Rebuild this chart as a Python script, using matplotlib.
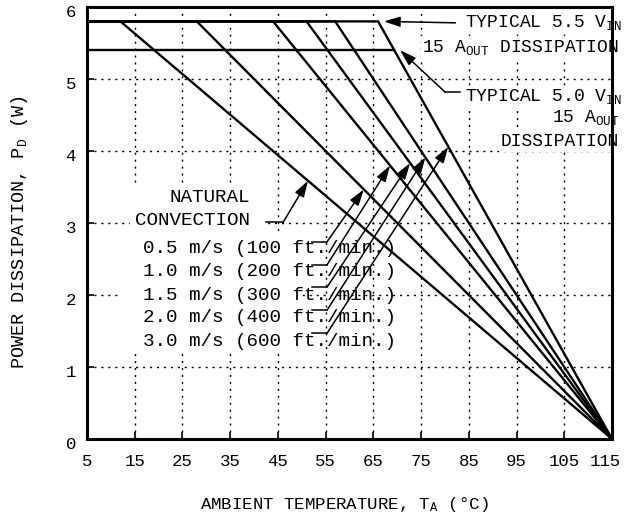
import numpy as np
import matplotlib
matplotlib.use("Agg")
from matplotlib import pyplot as plt
from matplotlib.patches import Rectangle
from matplotlib.transforms import ScaledTranslation

plt.rcParams['font.family'] = ['Liberation Mono', 'DejaVu Sans Mono']
plt.rcParams['mathtext.fontset'] = 'custom'
plt.rcParams['mathtext.rm'] = 'Liberation Mono'
plt.rcParams['mathtext.it'] = 'Liberation Mono'

# derating curves: flat at the 5.5 V limit up to the knee, then straight down to 115 C
curve_labels = ["NATURAL CONVECTION", "0.5 m/s (100 ft./min.)", "1.0 m/s (200 ft./min.)",
                "1.5 m/s (300 ft./min.)", "2.0 m/s (400 ft./min.)", "3.0 m/s (600 ft./min.)"]
knee_temps = [12, 28, 44, 51, 57, 66]
t_start = 5
t_end = 115
p_typ_55 = 5.8   # typical 5.5 V_IN / 15 A_OUT dissipation
p_typ_50 = 5.4   # typical 5.0 V_IN / 15 A_OUT dissipation

# where the label arrows touch each curve (temperature)
arrow_temps = [51.3, 63.0, 68.5, 72.7, 75.9, 80.7]

x_ticks = [5, 15, 25, 35, 45, 55, 65, 75, 85, 95, 105, 115]
y_ticks = [0, 1, 2, 3, 4, 5, 6]

fig = plt.figure(figsize=(6.25, 5.17), dpi=100)
ax = fig.add_axes([87/625, 1-439/517, (612-87)/625, (439-7)/517])
ax.set_xlim(5, 115)
ax.set_ylim(0, 6)

# dotted grid
for xv in x_ticks[1:-1]:
    ax.axvline(xv, color='black', lw=1.0, ls=(0, (1.5, 3.5)), zorder=0.5)
for yv in y_ticks[1:-1]:
    ax.axhline(yv, color='black', lw=1.0, ls=(0, (1.5, 3.5)), zorder=0.5)

# white areas behind the label blocks
ax.add_patch(Rectangle((14, 2.88), 29, 0.62, facecolor='white', edgecolor='none', zorder=1))
ax.add_patch(Rectangle((11.5, 1.2), 38.2, 1.68, facecolor='white', edgecolor='none', zorder=1))

curves = []
for k in knee_temps:
    xs = [t_start, k, t_end]
    ys = [p_typ_55, p_typ_55, 0]
    curves.append((xs, ys))
    ax.plot(xs, ys, color='black', lw=1.7, zorder=3, solid_joinstyle='miter')

# 5.0 V line runs until it meets the last curve
x_int = np.interp(-p_typ_50, [-p_typ_55, 0], [knee_temps[-1], t_end])
ax.plot([t_start, x_int], [p_typ_50, p_typ_50], color='black', lw=1.7, zorder=3)

arrow_kw = dict(arrowstyle='-|>,head_length=0.7,head_width=0.22', color='black',
                lw=1.1, shrinkA=0, shrinkB=0, mutation_scale=14)
fs = 13.9
fs_r = 13

# natural convection label
ax.text(39.2, 3.35, "NATURAL", ha='right', va='center', fontsize=fs, zorder=2)
ax.text(39.2, 3.04, "CONVECTION", ha='right', va='center', fontsize=fs, zorder=2)
ax.plot([42.5, 46.1], [3.01, 3.01], color='black', lw=1.1, zorder=3)
tip_y = np.interp(arrow_temps[0], curves[0][0], curves[0][1])
ax.annotate("", xy=(arrow_temps[0], tip_y), xytext=(46.1, 3.01), arrowprops=arrow_kw, zorder=4)

# air speed labels
label_y = [2.65, 2.32, 2.0, 1.69, 1.35]
leader_y = [2.74, 2.42, 2.11, 1.79, 1.47]
for i in range(1, 6):
    ax.text(16.7, label_y[i-1], curve_labels[i], ha='left', va='center', fontsize=fs, zorder=2)
    ax.plot([52.2, 55.3], [leader_y[i-1], leader_y[i-1]], color='black', lw=1.1, zorder=3)
    tip_y = np.interp(arrow_temps[i], curves[i][0], curves[i][1])
    ax.annotate("", xy=(arrow_temps[i], tip_y), xytext=(55.3, leader_y[i-1]),
                arrowprops=arrow_kw, zorder=4)

# typical dissipation labels
wb = dict(facecolor='white', edgecolor='none', pad=1)
ax.text(117.0, 5.78, r"TYPICAL 5.5 V$_\mathrm{IN}$", ha='right', va='center', fontsize=fs_r,
        bbox=wb, zorder=2, clip_on=False)
ax.text(116.5, 5.44, r"15 A$_\mathrm{OUT}$ DISSIPATION", ha='right', va='center', fontsize=fs_r,
        bbox=wb, zorder=2, clip_on=False)
ax.annotate("", xy=(67.2, p_typ_55), xytext=(82.2, 5.78), arrowprops=arrow_kw, zorder=4)

ax.text(117.0, 4.75, r"TYPICAL 5.0 V$_\mathrm{IN}$", ha='right', va='center', fontsize=fs_r,
        bbox=wb, zorder=2, clip_on=False)
ax.text(116.5, 4.46, r"15 A$_\mathrm{OUT}$", ha='right', va='center', fontsize=fs_r,
        bbox=wb, zorder=2, clip_on=False)
ax.text(116.5, 4.13, "DISSIPATION", ha='right', va='center', fontsize=fs_r,
        bbox=wb, zorder=2, clip_on=False)
ax.plot([80.0, 83.2], [4.82, 4.82], color='black', lw=1.1, zorder=3)
ax.annotate("", xy=(70.6, p_typ_50), xytext=(80.0, 4.82), arrowprops=arrow_kw, zorder=4)

# axes styling
for s in ax.spines.values():
    s.set_linewidth(2.2)
ax.set_xticks(x_ticks)
ax.set_yticks(y_ticks)
ax.set_xticklabels([str(v) for v in x_ticks])
ax.set_yticklabels([str(v) for v in y_ticks])
ax.tick_params(direction='in', length=5, width=1.2, labelsize=12.5, pad=11)
ax.tick_params(axis='y', pad=8)
for lab in ax.get_yticklabels():
    lab.set_transform(lab.get_transform() + ScaledTranslation(0, -4/100, fig.dpi_scale_trans))
last = ax.get_xticklabels()[-1]
last.set_transform(last.get_transform() + ScaledTranslation(-7/100, 0, fig.dpi_scale_trans))

fig.text(344/625, 1-505/517, r"AMBIENT TEMPERATURE, T$_\mathrm{A}$ (°C)", ha='center', va='center',
         fontsize=12.5)
fig.text(20/625, 1-232/517, r"POWER DISSIPATION, P$_\mathrm{D}$ (W)", ha='center', va='center',
         rotation=90, fontsize=13.3)

plt.savefig('out.png', dpi=100)
plt.close()
